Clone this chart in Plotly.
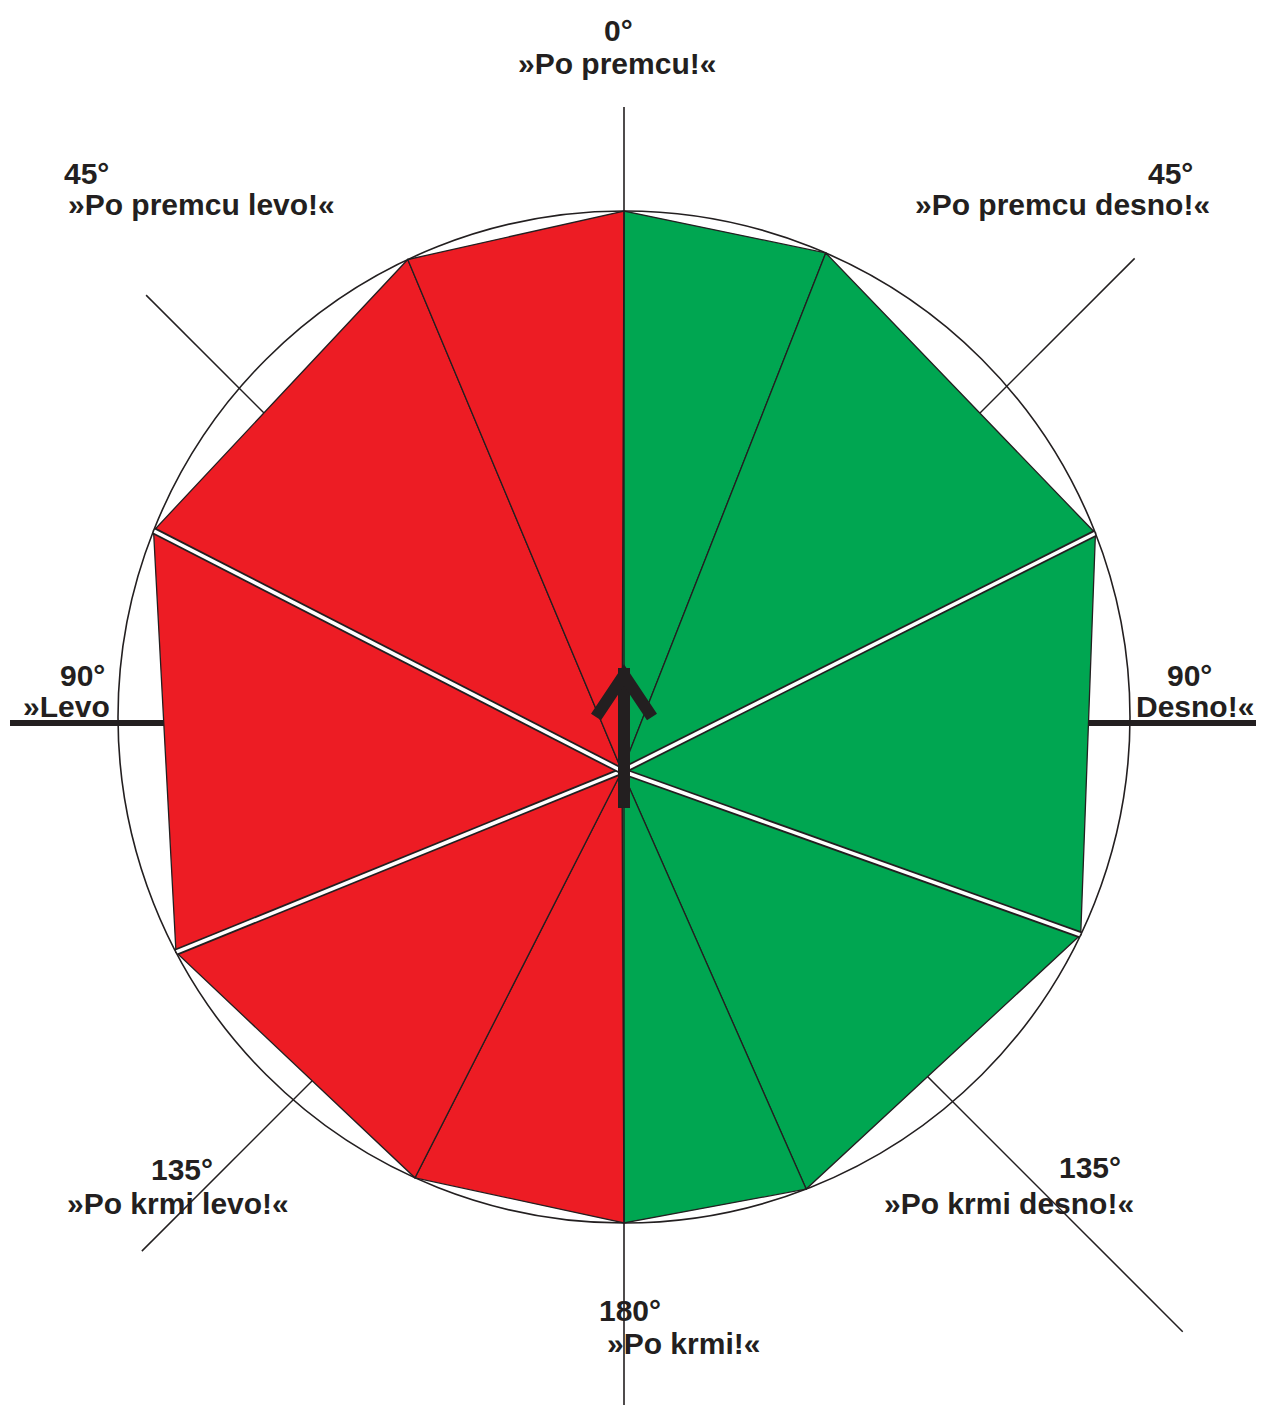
import plotly.graph_objects as go
import numpy as np

# ---------------- data ----------------
# bearings (deg, clockwise from bow) of the polygon corners on the circle
BOUNDARY_BEARINGS = [0, 23.5, 68.7, 115.5, 158.9, 180, 204.4, 242.3, 291.6, 334.7, 360]
SECTOR_SIDE = ["desno", "desno", "desno", "desno", "desno",
               "levo", "levo", "levo", "levo", "levo"]
DIVIDER_BEARINGS = [23.5, 68.7, 115.5, 158.9, 204.4, 242.3, 291.6, 334.7]
DIVIDER_KIND = ["thin", "gap", "gap", "thin", "thin", "gap", "gap", "thin"]
RAY_BEARINGS = [45, 135, 225, 315]

LABEL_DEG = ["0°", "45°", "45°", "90°", "90°", "135°", "135°", "180°"]
LABEL_CMD = ["»Po premcu!«", "»Po premcu levo!«", "»Po premcu desno!«", "»Levo",
             "Desno!«", "»Po krmi levo!«", "»Po krmi desno!«", "»Po krmi!«"]

# ---------------- layout / geometry ----------------
W, H = 1262, 1405
CX, CY, R = 624, 717, 506          # circle
HX, HY = 622, 771                  # hub of the sectors
RAY_LEN = [725, 793, 679, 673]
DEG_POS = [(618, 30), (86, 173), (1170, 173), (82, 675), (1189, 675),
           (182, 1169), (1090, 1167), (630, 1310)]
CMD_POS = [(617, 63), (201, 204), (1062, 204), (66, 706), (1195, 706),
           (178, 1203), (1009, 1203), (683, 1343)]

DARK = "#231f20"
COLORS = {"desno": "#00a651", "levo": "#ed1c24"}


def vertex(b):
    r = np.radians(b)
    return CX + R * np.sin(r), CY - R * np.cos(r)


fig = go.Figure()

# rays at 45 deg
for b, L in zip(RAY_BEARINGS, RAY_LEN):
    r = np.radians(b)
    fig.add_trace(go.Scatter(x=[HX, HX + L * np.sin(r)], y=[HY, HY - L * np.cos(r)],
                             mode="lines", line=dict(color=DARK, width=1.5),
                             hoverinfo="skip", showlegend=False))

# vertical bow-stern line
fig.add_trace(go.Scatter(x=[CX, CX], y=[107, H], mode="lines",
                         line=dict(color=DARK, width=1.6), hoverinfo="skip", showlegend=False))
# thick abeam lines
for xs in ([10, 164], [1088, 1256]):
    fig.add_trace(go.Scatter(x=xs, y=[723, 723], mode="lines",
                             line=dict(color=DARK, width=6), hoverinfo="skip", showlegend=False))

# sectors
for i, side in enumerate(SECTOR_SIDE):
    b0, b1 = BOUNDARY_BEARINGS[i], BOUNDARY_BEARINGS[i + 1]
    x1, y1 = vertex(b0)
    x2, y2 = vertex(b1)
    fig.add_trace(go.Scatter(x=[HX, x1, x2, HX], y=[HY, y1, y2, HY],
                             mode="lines", fill="toself", fillcolor=COLORS[side],
                             line=dict(color=DARK, width=1.3),
                             hoverinfo="skip", showlegend=False))

# white gap dividers
for b, kind in zip(DIVIDER_BEARINGS, DIVIDER_KIND):
    if kind != "gap":
        continue
    vx, vy = vertex(b)
    fig.add_trace(go.Scatter(x=[HX, vx], y=[HY, vy], mode="lines",
                             line=dict(color=DARK, width=7), hoverinfo="skip", showlegend=False))
    fig.add_trace(go.Scatter(x=[HX, vx], y=[HY, vy], mode="lines",
                             line=dict(color="white", width=3.5), hoverinfo="skip", showlegend=False))

# centre line over the sectors
fig.add_trace(go.Scatter(x=[CX, CX], y=[vertex(0)[1], vertex(180)[1]], mode="lines",
                         line=dict(color=DARK, width=1.4), hoverinfo="skip", showlegend=False))

# arrow
fig.add_trace(go.Scatter(x=[CX, CX], y=[668, 808], mode="lines",
                         line=dict(color=DARK, width=12), hoverinfo="skip", showlegend=False))
fig.add_trace(go.Scatter(x=[596, CX, 652], y=[717, 675, 717], mode="lines",
                         line=dict(color=DARK, width=12), hoverinfo="skip", showlegend=False))

# circle
fig.add_shape(type="circle", xref="x", yref="y", x0=CX - R, x1=CX + R, y0=CY - R, y1=CY + R,
              line=dict(color=DARK, width=1.6), layer="above")

font = dict(family="Liberation Sans", size=30, color=DARK, weight="bold")
for txt, (x, y) in zip(LABEL_DEG, DEG_POS):
    fig.add_annotation(x=x, y=y, xref="x", yref="y", text=txt, showarrow=False,
                       xanchor="center", yanchor="middle", font=font, borderpad=0)
for txt, (x, y) in zip(LABEL_CMD, CMD_POS):
    fig.add_annotation(x=x, y=y, xref="x", yref="y", text=txt, showarrow=False,
                       xanchor="center", yanchor="middle", font=font, borderpad=0)

fig.update_xaxes(range=[0, W], visible=False, showgrid=False, zeroline=False, fixedrange=True)
fig.update_yaxes(range=[H, 0], visible=False, showgrid=False, zeroline=False, fixedrange=True)
fig.update_layout(width=W, height=H, margin=dict(l=0, r=0, t=0, b=0),
                  paper_bgcolor="white", plot_bgcolor="white", showlegend=False)

fig.write_html("out.html", config={"displayModeBar": False},
               post_script="document.body.style.margin='0';")
